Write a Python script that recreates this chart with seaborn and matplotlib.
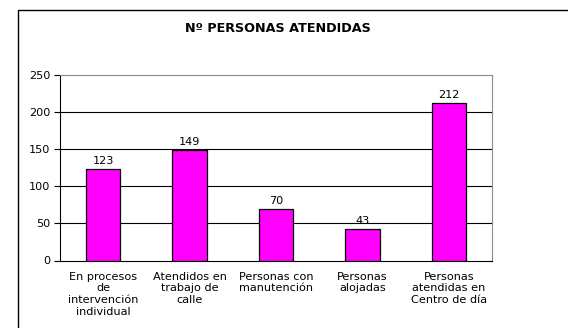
import matplotlib
matplotlib.use("Agg")
import matplotlib.pyplot as plt
from matplotlib.patches import Rectangle
import pandas as pd
import seaborn as sns

categories = [
    "En procesos\nde\nintervención\nindividual",
    "Atendidos en\ntrabajo de\ncalle",
    "Personas con\nmanutención",
    "Personas\nalojadas",
    "Personas\natendidas en\nCentro de día",
]
values = [123, 149, 70, 43, 212]
yticks = [0, 50, 100, 150, 200, 250]
title = "Nº PERSONAS ATENDIDAS"

sns.set_style("white")
plt.rcParams["font.family"] = ["DejaVu Sans"]
plt.rcParams["text.color"] = "black"
plt.rcParams["xtick.color"] = "black"
plt.rcParams["ytick.color"] = "black"
FS = 8.1

df = pd.DataFrame({"categoria": categories, "personas": values})

fig = plt.figure(figsize=(5.68, 3.28), dpi=100)
ax = fig.add_axes([60 / 568, 1 - 260.5 / 328, 432 / 568, 185.5 / 328])

sns.barplot(data=df, x="categoria", y="personas", ax=ax, color="#FF00FF",
            saturation=1, width=0.4, edgecolor="black", linewidth=0.9, zorder=3)

for i, v in enumerate(values):
    ax.text(i, v + 4, str(v), ha="center", va="bottom", fontsize=FS, color="black")

ax.set_ylim(0, 250)
ax.set_xlim(-0.5, len(categories) - 0.5)
ax.set_yticks(yticks)
ax.set_yticklabels([str(t) for t in yticks], fontsize=FS)
ax.set_xlabel("")
ax.set_ylabel("")

ax.set_xticks(range(len(categories)))
ax.set_xticklabels(categories, fontsize=FS, linespacing=1.22)
ax.set_xticks([i - 0.5 for i in range(len(categories) + 1)], minor=True)
ax.tick_params(axis="x", which="major", length=0, pad=8)
ax.tick_params(axis="x", which="minor", length=4, width=0.8, color="black", direction="out")
ax.tick_params(axis="y", length=4, width=0.8, color="black", direction="out", pad=3, left=True)

for y in yticks[1:-1]:
    ax.axhline(y, color="black", linewidth=0.8, zorder=1)

ax.spines["left"].set_color("black")
ax.spines["bottom"].set_color("black")
ax.spines["top"].set_color("#8c8c8c")
ax.spines["right"].set_color("#8c8c8c")
for s in ax.spines.values():
    s.set_linewidth(0.8)

fig.text(278 / 568, 1 - 28 / 328, title, ha="center", va="center",
         fontsize=9.2, fontweight="bold", color="black")

# chart frame
frame = Rectangle((17.5 / 568, -0.05), 1.2, 1 - 10.5 / 328 + 0.05,
                  transform=fig.transFigure, fill=False, edgecolor="black",
                  linewidth=1.0, clip_on=False)
fig.patches.append(frame)

fig.savefig("out.png", dpi=100)
